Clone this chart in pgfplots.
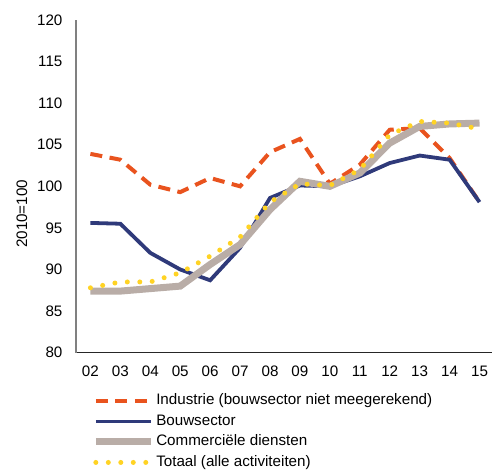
\documentclass[border=0pt]{standalone}
\usepackage{pgfplots}
\pgfplotsset{compat=1.18}
\usepackage{fontspec}
\setmainfont{Liberation Sans}
\definecolor{cInd}{HTML}{E9531E}
\definecolor{cBouw}{HTML}{2F3A7A}
\definecolor{cCom}{HTML}{B9ADA7}
\definecolor{cTot}{HTML}{FFD324}
\begin{document}
\begin{tikzpicture}
\begin{axis}[
  scale only axis, width=416pt, height=333pt,
  xmin=1.516, xmax=15.4, ymin=80, ymax=120,
  ytick={80,85,...,120},
  xtick={2,...,15},
  xticklabels={02,03,04,05,06,07,08,09,10,11,12,13,14,15},
  axis x line=bottom, axis y line=left,
  x axis line style={-, draw=black!85, line width=1pt},
  y axis line style={-, draw=gray, line width=1.2pt},
  major tick length=0pt,
  tick label style={font=\fontsize{15.2}{18}\selectfont},
  /pgf/number format/assume math mode=true,
  xticklabel style={yshift=-10pt},
  yticklabel style={xshift=-10pt},
  legend cell align=left,
  legend style={at={(axis description cs:0.039,-0.117)}, anchor=north west, draw=none, fill=none,
    font=\fontsize{15.2}{18}\selectfont, row sep=2pt, inner sep=0pt,
    nodes={text height=11pt, text depth=3.5pt}},
  legend image code/.code={\draw[#1] (0pt,0pt) -- (55pt,0pt);},
]
\coordinate (O) at (rel axis cs:0,0);
\addplot[cInd, line width=4pt, dash pattern=on 12pt off 7.5pt] coordinates {
(2,103.9)(3,103.2)(4,100.2)(5,99.3)(6,101.0)(7,100.0)(8,104.1)(9,105.7)(10,100.3)(11,102.6)(12,106.8)(13,107.0)(14,103.4)(15,98.1)};
\addlegendentry{Industrie (bouwsector niet meegerekend)}
\addplot[cBouw, line width=3.8pt] coordinates {
(2,95.6)(3,95.5)(4,92.0)(5,90.0)(6,88.7)(7,92.6)(8,98.6)(9,100.1)(10,100.0)(11,101.2)(12,102.8)(13,103.7)(14,103.2)(15,98.1)};
\addlegendentry{Bouwsector}
\addplot[cCom, line width=7pt] coordinates {
(2,87.4)(3,87.4)(4,87.7)(5,88.0)(6,90.6)(7,93.0)(8,97.2)(9,100.6)(10,100.0)(11,101.6)(12,105.2)(13,107.2)(14,107.5)(15,107.6)};
\addlegendentry{Commerciële diensten}
\addplot[cTot, line width=5pt, line cap=round, dash pattern=on 0pt off 12.5pt] coordinates {
(2,87.8)(3,88.5)(4,88.5)(5,89.6)(6,91.6)(7,93.9)(8,98.1)(9,100.3)(10,100.1)(11,102.0)(12,106.2)(13,107.8)(14,107.6)(15,106.9)};
\addlegendentry{Totaal (alle activiteiten)}
\end{axis}
\path (O) ++(-54pt,139pt) node[rotate=90, anchor=center, font=\fontsize{15.2}{18}\selectfont] {2010=100};
\path (O) ++(-76pt,-116pt) rectangle ++(492pt,469pt);
\end{tikzpicture}
\end{document}
